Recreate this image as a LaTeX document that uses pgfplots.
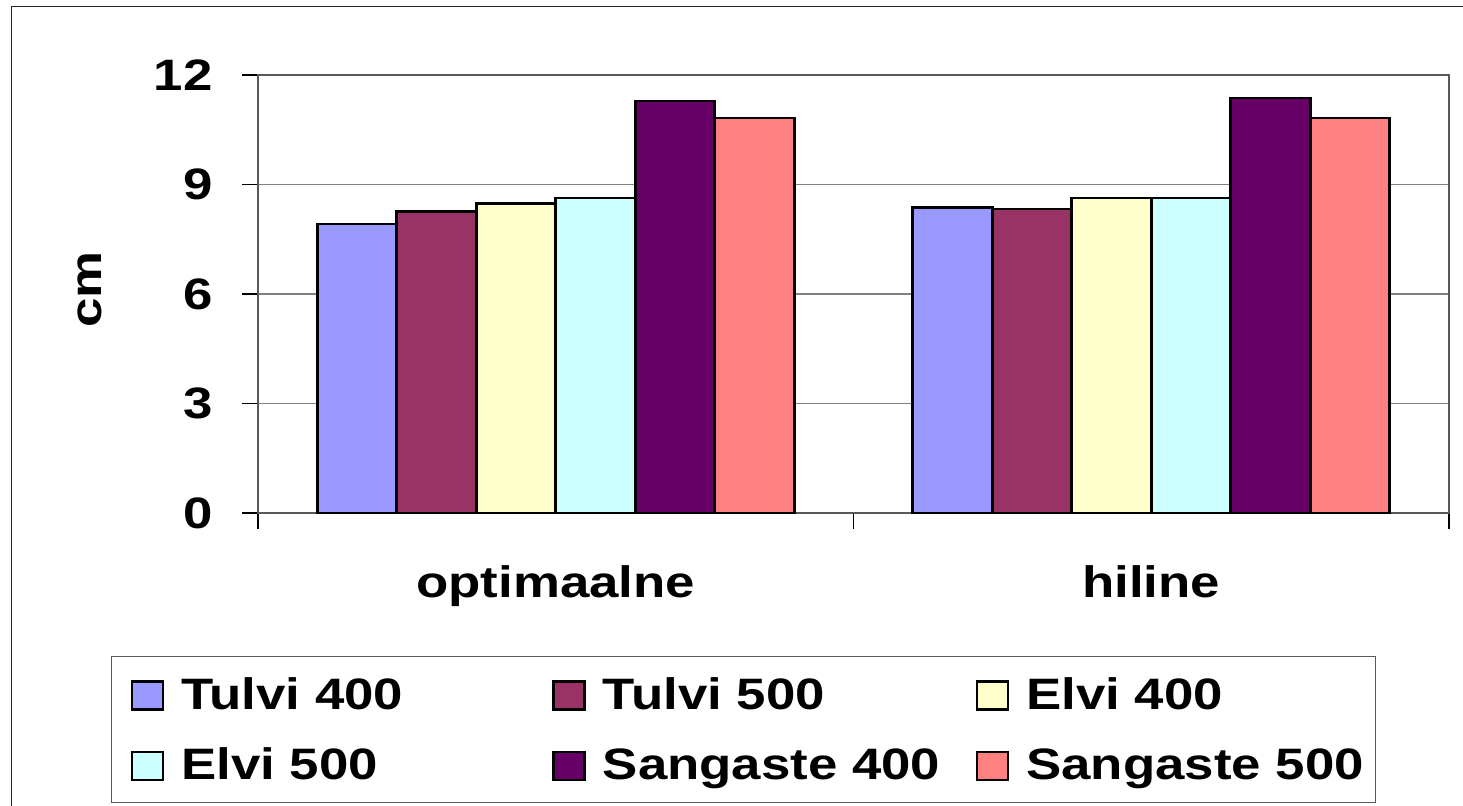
\documentclass[border=0pt]{standalone}
\usepackage{fontspec}
\setmainfont{Liberation Sans}[FakeStretch=1.2]
\usepackage{pgfplots}
\pgfplotsset{compat=1.18}
\definecolor{cA}{HTML}{9999FF}
\definecolor{cB}{HTML}{993366}
\definecolor{cC}{HTML}{FFFFCC}
\definecolor{cD}{HTML}{CCFFFF}
\definecolor{cE}{HTML}{660066}
\definecolor{cF}{HTML}{FF8080}
\newcommand{\bigf}{\fontsize{22}{26}\selectfont\bfseries}
\begin{document}
\begin{tikzpicture}
\useasboundingbox (0,0) rectangle (731.5pt,-403pt);
\draw[line width=0.7pt, black!85] (5.85pt,-410pt) -- (5.85pt,-3.15pt) -- (740pt,-3.15pt);
\begin{axis}[
  at={(129pt,-256.5pt)}, anchor=south west,
  scale only axis, width=595.5pt, height=219pt,
  xmin=-0.5, xmax=1.5, ymin=0, ymax=12,
  ytick={0,3,6,9,12},
  xtick={-0.5,0.5,1.5}, xticklabels={},
  extra x ticks={0,1}, extra x tick labels={optimaalne,hiline},
  extra x tick style={major tick length=0pt, grid=none, xticklabel style={anchor=base, yshift=-42pt}},
  tick align=outside, major tick length=8pt,
  xtick pos=left, ytick pos=left,
  tick style={black, line width=0.6pt},
  ymajorgrids, grid style={gray, line width=0.6pt},
  axis line style={gray!70!black, line width=1pt},
  /pgf/number format/assume math mode=true,
  ticklabel style={font=\bigf},
  yticklabel style={inner sep=0pt, xshift=-14.5pt},
  ylabel={cm},
  ylabel style={font=\bigf, at={(axis description cs:-0.1411,0.51)}, anchor=center},
  ybar=0pt, bar width=39.75pt,
  legend columns=3,
  legend cell align=left,
  legend style={at={(-0.12343,-0.3265)}, anchor=north west, draw=gray!70!black, line width=0.6pt,
    inner xsep=9.5pt, inner ysep=10.5pt, row sep=18.5pt, font=\bigf,
    nodes={inner sep=0pt, text depth=0pt, text height=16pt},
    cells={anchor=base west},
    /tikz/every odd column/.style={column sep=8.5pt}},
  legend image code/.code={\draw[#1, line width=1.3pt] (0pt,0pt) rectangle (15.5pt,14pt);},
]
\addplot[fill=cA, draw=black, line width=1.4pt] coordinates {(0,7.92) (1,8.38)};
\addlegendentry{\makebox[185.5pt][l]{Tulvi 400}}
\addplot[fill=cB, draw=black, line width=1.4pt] coordinates {(0,8.25) (1,8.33)};
\addlegendentry{\makebox[186.5pt][l]{Tulvi 500}}
\addplot[fill=cC, draw=black, line width=1.4pt] coordinates {(0,8.47) (1,8.63)};
\addlegendentry{\makebox[165pt][l]{Elvi 400}}
\addplot[fill=cD, draw=black, line width=1.4pt] coordinates {(0,8.63) (1,8.63)};
\addlegendentry{\makebox[185.5pt][l]{Elvi 500}}
\addplot[fill=cE, draw=black, line width=1.4pt] coordinates {(0,11.29) (1,11.37)};
\addlegendentry{\makebox[186.5pt][l]{Sangaste 400}}
\addplot[fill=cF, draw=black, line width=1.4pt] coordinates {(0,10.82) (1,10.82)};
\addlegendentry{\makebox[165pt][l]{Sangaste 500}}
\end{axis}
\end{tikzpicture}
\end{document}
